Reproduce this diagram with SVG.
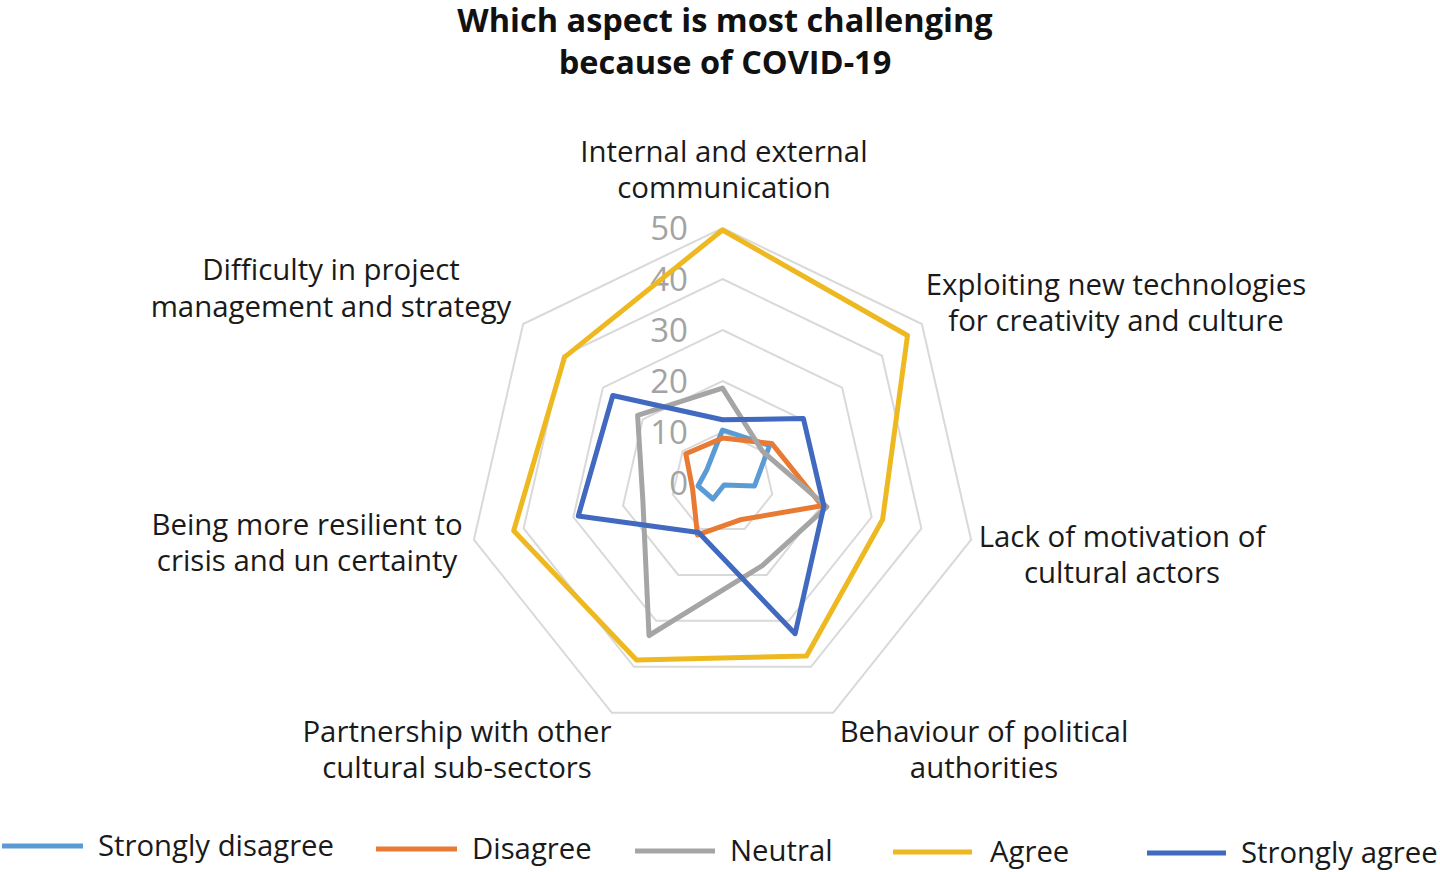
<svg xmlns="http://www.w3.org/2000/svg" width="1440" height="872" viewBox="0 0 1440 872">
<style>
.title{font-family:"Open Sans","Liberation Sans",sans-serif;font-weight:700;font-size:32.5px;fill:#111;text-anchor:middle}
.cat{font-family:"Open Sans","Liberation Sans",sans-serif;font-size:29.4px;fill:#1a1a1a;text-anchor:middle}
.tick{font-family:"Open Sans","Liberation Sans",sans-serif;font-size:33px;fill:#a3a3a3;text-anchor:end}
.leg{font-family:"Open Sans","Liberation Sans",sans-serif;font-size:29.3px;fill:#1a1a1a}
.ring{fill:none;stroke:#d9d9d9;stroke-width:2}
.s{fill:none;stroke-width:5;stroke-linejoin:round}
.l{stroke-width:5}
.sd{stroke:#5B9BD5}
.d{stroke:#E97A34}
.n{stroke:#A5A5A5}
.a{stroke:#EDB820}
.sa{stroke:#4169BF}
</style>
<rect width="1440" height="872" fill="#ffffff"/>
<g id="title">
<text class="title" x="725" y="32">Which aspect is most challenging</text>
<text class="title" x="725" y="74">because of COVID-19</text>
</g>
<g id="grid">
<polygon class="ring" points="722.5,432 762.37,451.2 772.22,494.35 744.63,528.95 700.37,528.95 672.78,494.35 682.63,451.2"/>
<polygon class="ring" points="722.5,381 802.25,419.4 821.94,505.7 766.76,574.9 678.24,574.9 623.06,505.7 642.75,419.4"/>
<polygon class="ring" points="722.5,330 842.12,387.61 871.66,517.05 788.88,620.85 656.12,620.85 573.34,517.05 602.88,387.61"/>
<polygon class="ring" points="722.5,279 881.99,355.81 921.39,528.39 811.01,666.8 633.99,666.8 523.61,528.39 563.01,355.81"/>
<polygon class="ring" points="722.5,228 921.87,324.01 971.11,539.74 833.14,712.75 611.86,712.75 473.89,539.74 523.13,324.01"/>
</g>
<g id="ticks">
<text class="tick" x="688" y="240">50</text>
<text class="tick" x="688" y="291">40</text>
<text class="tick" x="688" y="342">30</text>
<text class="tick" x="688" y="393">20</text>
<text class="tick" x="688" y="444">10</text>
<text class="tick" x="688" y="495">0</text>
</g>
<g id="series">
<polygon id="strongly-disagree" class="s sd" points="722.5,430 769.6,445.5 754.5,486 724,485 713,499 698,486 706.6,470.3"/>
<polygon id="disagree" class="s d" points="722.5,438.1 771.9,443.6 821.9,505.7 740.2,519.8 697.5,534.9 692.7,489.8 685.8,453.8"/>
<polygon id="neutral" class="s n" points="722.5,388.1 762.4,451.2 826.9,506.8 762.3,565.7 649,635.5 642.9,501.2 637.6,415.3"/>
<polygon id="agree" class="s a" points="722.5,230 907.5,335.5 882.6,519.5 806.5,656 636.5,660 513.7,530.7 564.6,357.1"/>
<polygon id="strongly-agree" class="s sa" points="722.5,419.8 803.4,418.5 823.9,506.1 795.1,633.7 698.6,532.6 578.3,515.9 612.8,395.5"/>
</g>
<g id="categories">
<g id="cat-internal"><text class="cat" x="724" y="162">Internal and external</text><text class="cat" x="724" y="198">communication</text></g>
<g id="cat-exploiting"><text class="cat" x="1116" y="295">Exploiting new technologies</text><text class="cat" x="1116" y="331">for creativity and culture</text></g>
<g id="cat-lack"><text class="cat" x="1122" y="547">Lack of motivation of</text><text class="cat" x="1122" y="583">cultural actors</text></g>
<g id="cat-behaviour"><text class="cat" x="984" y="742">Behaviour of political</text><text class="cat" x="984" y="778">authorities</text></g>
<g id="cat-partnership"><text class="cat" x="457" y="742">Partnership with other</text><text class="cat" x="457" y="778">cultural sub-sectors</text></g>
<g id="cat-resilient"><text class="cat" x="307" y="535">Being more resilient to</text><text class="cat" x="307" y="571">crisis and un certainty</text></g>
<g id="cat-difficulty"><text class="cat" x="331" y="280">Difficulty in project</text><text class="cat" x="331" y="317">management and strategy</text></g>
</g>
<g id="legend">
<line class="l sd" x1="2" y1="846" x2="83" y2="846"/>
<text class="leg" x="98" y="856">Strongly disagree</text>
<line class="l d" x1="376" y1="849" x2="457" y2="849"/>
<text class="leg" x="472" y="859">Disagree</text>
<line class="l n" x1="635" y1="851" x2="715" y2="851"/>
<text class="leg" x="730" y="861">Neutral</text>
<line class="l a" x1="893" y1="852" x2="972" y2="852"/>
<text class="leg" x="990" y="862">Agree</text>
<line class="l sa" x1="1147" y1="853" x2="1226" y2="853"/>
<text class="leg" x="1241" y="863">Strongly agree</text>
</g>
</svg>
